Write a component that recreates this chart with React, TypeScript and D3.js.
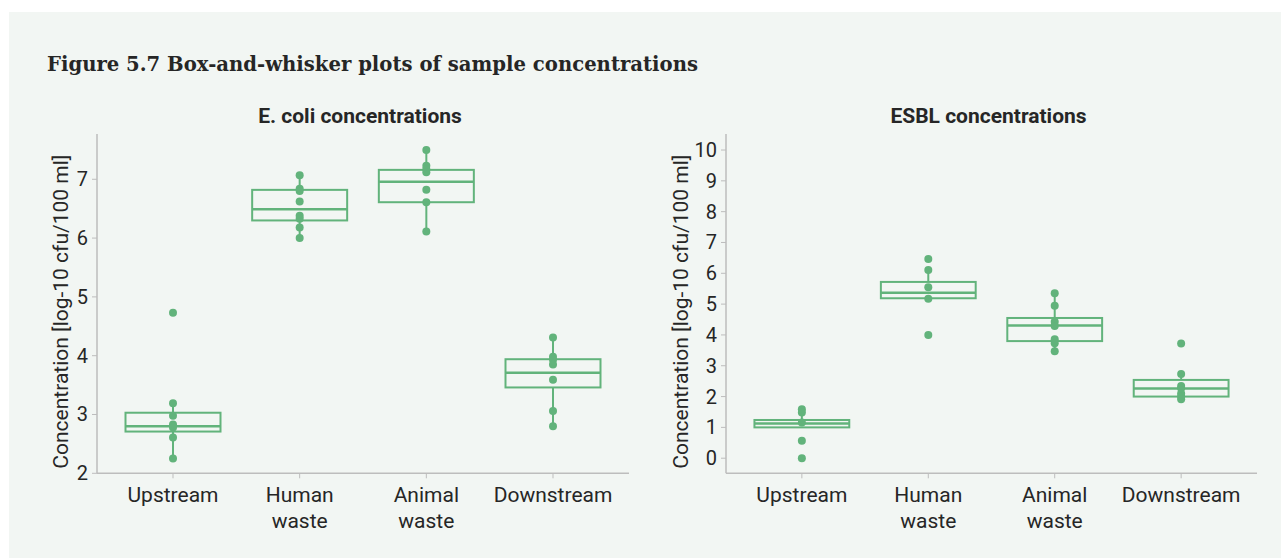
import React from "react";
import * as d3 from "d3";

const categories = ["Upstream", "Human waste", "Animal waste", "Downstream"];

// E. coli concentrations (log-10 cfu/100 ml)
const ecoliQ1 = [2.71, 6.3, 6.61, 3.46];
const ecoliMedian = [2.8, 6.49, 6.96, 3.71];
const ecoliQ3 = [3.03, 6.82, 7.16, 3.94];
const ecoliWhiskerLow = [2.25, 6.0, 6.11, 2.8];
const ecoliWhiskerHigh = [3.19, 7.07, 7.5, 4.31];
const ecoliPoints = [
  [4.73, 3.19, 2.98, 2.83, 2.78, 2.61, 2.25],
  [7.07, 6.84, 6.8, 6.62, 6.38, 6.33, 6.18, 6.0],
  [7.5, 7.23, 7.17, 7.12, 6.82, 6.61, 6.11],
  [4.31, 3.98, 3.93, 3.85, 3.59, 3.06, 2.8],
];
const ecoliTicks = [2, 3, 4, 5, 6, 7];
const ecoliDomain = [2, 7.77];

// ESBL concentrations
const esblQ1 = [1.0, 5.19, 3.8, 2.0];
const esblMedian = [1.13, 5.37, 4.31, 2.26];
const esblQ3 = [1.24, 5.72, 4.55, 2.54];
const esblWhiskerLow = [1.0, 5.17, 3.47, 1.91];
const esblWhiskerHigh = [1.52, 6.11, 5.35, 2.73];
const esblPoints = [
  [1.59, 1.48, 1.16, 0.57, 0.0],
  [6.46, 6.11, 5.55, 5.17, 4.0],
  [5.35, 4.95, 4.43, 4.29, 3.86, 3.73, 3.47],
  [3.72, 2.73, 2.34, 2.27, 2.1, 2.0, 1.91],
];
const esblTicks = [0, 1, 2, 3, 4, 5, 6, 7, 8, 9, 10];
const esblDomain = [-0.49, 10.52];

const GREEN = "#62b37b";
const TEXT = "#262626";
const AXIS = "#bdbdbd";
const FONT = "Roboto, sans-serif";

type PanelProps = {
  title: string;
  x0: number;
  x1: number;
  titleOffset: number;
  q1: number[];
  median: number[];
  q3: number[];
  wLow: number[];
  wHigh: number[];
  points: number[][];
  ticks: number[];
  domain: number[];
};

function Panel(p: PanelProps) {
  const yTop = 134;
  const yBottom = 473.3;
  const x = d3.scalePoint<string>().domain(categories).range([p.x0, p.x1]).padding(0.6);
  const y = d3.scaleLinear().domain(p.domain).range([yBottom, yTop]);
  const boxW = x.step() * 0.75;
  return (
    <g>
      <text
        x={(p.x0 + p.x1) / 2 - 3}
        y={123}
        textAnchor="middle"
        fontFamily={FONT}
        fontWeight="bold"
        fontSize={21}
        fill={TEXT}
      >
        {p.title}
      </text>
      {/* y axis */}
      <line x1={p.x0} x2={p.x0} y1={yTop} y2={yBottom} stroke={AXIS} strokeWidth={1.5} />
      {p.ticks.map((t) => (
        <g key={t}>
          <line x1={p.x0 - 5} x2={p.x0} y1={y(t)} y2={y(t)} stroke={AXIS} strokeWidth={1} />
          <text
            x={p.x0 - 9}
            y={y(t)}
            dy="0.35em"
            textAnchor="end"
            fontFamily={FONT}
            fontSize={20}
            fill={TEXT}
          >
            {t}
          </text>
        </g>
      ))}
      <text
        transform={`translate(${p.x0 - p.titleOffset},${(yTop + yBottom) / 2 + 8}) rotate(-90)`}
        textAnchor="middle"
        fontFamily={FONT}
        fontSize={21}
        fill={TEXT}
      >
        Concentration [log-10 cfu/100 ml]
      </text>
      {/* x axis */}
      <line x1={p.x0} x2={p.x1} y1={yBottom} y2={yBottom} stroke={AXIS} strokeWidth={1.5} />
      {categories.map((c) => {
        const words = c.split(" ");
        return (
          <g key={c}>
            <line x1={x(c)} x2={x(c)} y1={yBottom} y2={yBottom + 5} stroke={AXIS} strokeWidth={1} />
            {words.map((w, i) => (
              <text
                key={i}
                x={x(c)}
                y={502 + i * 26}
                textAnchor="middle"
                fontFamily={FONT}
                fontSize={21}
                fill={TEXT}
              >
                {w}
              </text>
            ))}
          </g>
        );
      })}
      {/* boxes */}
      {categories.map((c, i) => {
        const cx = x(c) as number;
        return (
          <g key={c}>
            <line x1={cx} x2={cx} y1={y(p.wHigh[i])} y2={y(p.q3[i])} stroke={GREEN} strokeWidth={2} />
            <line x1={cx} x2={cx} y1={y(p.q1[i])} y2={y(p.wLow[i])} stroke={GREEN} strokeWidth={2} />
            <rect
              x={cx - boxW / 2}
              y={y(p.q3[i])}
              width={boxW}
              height={y(p.q1[i]) - y(p.q3[i])}
              fill="none"
              stroke={GREEN}
              strokeWidth={2}
            />
            <line
              x1={cx - boxW / 2}
              x2={cx + boxW / 2}
              y1={y(p.median[i])}
              y2={y(p.median[i])}
              stroke={GREEN}
              strokeWidth={2.5}
            />
            {p.points[i].map((v, j) => (
              <circle key={j} cx={cx} cy={y(v)} r={4} fill={GREEN} />
            ))}
          </g>
        );
      })}
    </g>
  );
}

export default function App() {
  return (
    <div style={{ position: "fixed", left: 0, top: 0, width: 1281, height: 558, background: "#fff" }}>
      <svg width={1281} height={558} style={{ display: "block" }}>
        <rect x={9} y={12} width={1272} height={546} fill="#f2f6f3" />
        <text
          x={47}
          y={71}
          fontFamily="'DejaVu Serif', serif"
          fontWeight="bold"
          fontSize={20}
          fill={TEXT}
          textLength={651}
          lengthAdjust="spacingAndGlyphs"
        >
          Figure 5.7 Box-and-whisker plots of sample concentrations
        </text>
        <Panel
          title="E. coli concentrations"
          x0={97}
          x1={629}
          titleOffset={29}
          q1={ecoliQ1}
          median={ecoliMedian}
          q3={ecoliQ3}
          wLow={ecoliWhiskerLow}
          wHigh={ecoliWhiskerHigh}
          points={ecoliPoints}
          ticks={ecoliTicks}
          domain={ecoliDomain}
        />
        <Panel
          title="ESBL concentrations"
          x0={726}
          x1={1257}
          titleOffset={38}
          q1={esblQ1}
          median={esblMedian}
          q3={esblQ3}
          wLow={esblWhiskerLow}
          wHigh={esblWhiskerHigh}
          points={esblPoints}
          ticks={esblTicks}
          domain={esblDomain}
        />
      </svg>
    </div>
  );
}
